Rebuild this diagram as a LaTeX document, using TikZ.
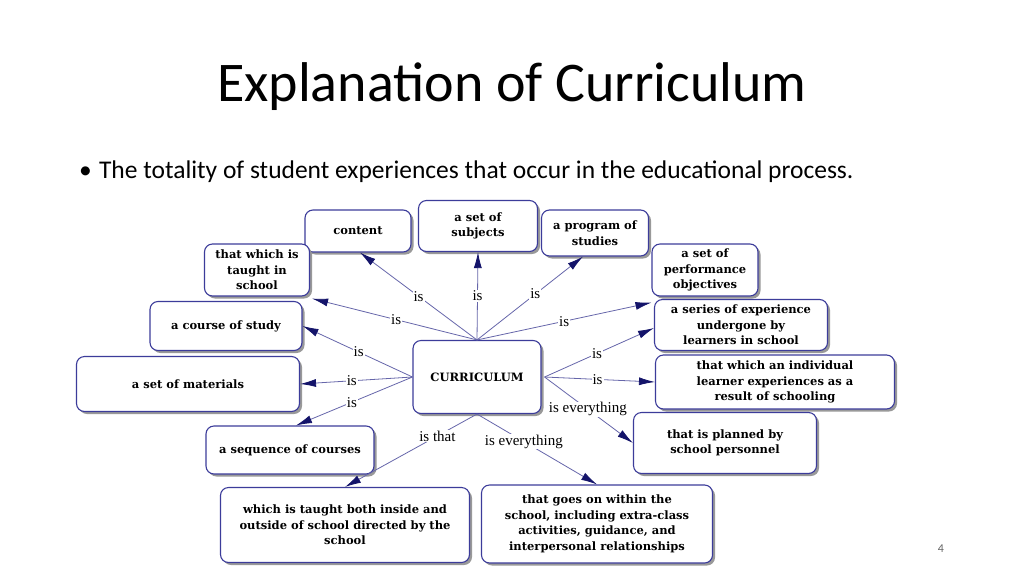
\documentclass[tikz,border=0pt]{standalone}
\usepackage{fontspec}
\setmainfont{Carlito}
\newfontfamily\nodefont{DejaVu Serif}
\newfontfamily\labfont{Liberation Serif}
\usetikzlibrary{arrows.meta,shadows,calc}
\definecolor{boxblue}{HTML}{3C3C9A}
\definecolor{lineblue}{HTML}{6666AA}
\definecolor{tipblue}{HTML}{14146A}
\tikzset{
  cbox/.style={draw=boxblue, line width=1.1pt, rounded corners=8pt, fill=white, align=center,
    font=\nodefont\bfseries\fontsize{11.5}{15.5}\selectfont, inner sep=2pt,
    drop shadow={shadow xshift=2.5pt, shadow yshift=-2.5pt, fill=black!40, opacity=1}},
  conn/.style={draw=lineblue, line width=0.8pt, -{Latex[length=16pt,width=8pt,color=tipblue]}},
  lab/.style={fill=white, inner sep=1pt, font=\labfont\fontsize{15}{17}\selectfont, text=black},
}
\begin{document}
\begin{tikzpicture}[x=1pt,y=-1pt]
\useasboundingbox[fill=white] (0,0) rectangle (1024,576);
\node (title) at (512,87) {\fontsize{56}{60}\selectfont Explanation of Curriculum};
\node[anchor=west, inner sep=0pt] (bul) at (79,172) {\fontsize{25.5}{28}\selectfont \textbullet\hspace{0.28em}The totality of student experiences that occur in the educational process.};
\node (pg) at (941,549) {\color{black!60}\fontsize{12}{14}\selectfont 4};

\node[cbox, minimum width=106pt, minimum height=42pt] (content) at (358,231) {content};
\node[cbox, minimum width=119pt, minimum height=51pt] (subjects) at (478,226) {a set of\\subjects};
\node[cbox, minimum width=107pt, minimum height=46pt] (program) at (595,233) {a program of\\studies};
\node[cbox, minimum width=105pt, minimum height=52pt] (taught) at (257,270) {that which is\\taught in\\school};
\node[cbox, minimum width=106pt, minimum height=52pt] (perf) at (705,270) {a set of\\performance\\objectives};
\node[cbox, minimum width=152pt, minimum height=49pt] (course) at (226,326) {a course of study};
\node[cbox, minimum width=173pt, minimum height=51pt] (series) at (741,325) {a series of experience\\undergone by\\learners in school};
\node[cbox, minimum width=223pt, minimum height=55pt] (materials) at (188,384) {a set of materials};
\node[cbox, minimum width=128pt, minimum height=73pt] (cur) at (477,377) {CURRICULUM};
\node[cbox, minimum width=239pt, minimum height=54pt] (indiv) at (775,382) {that which an individual\\learner experiences as a\\result of schooling};
\node[cbox, minimum width=168pt, minimum height=48pt] (sequence) at (290,450) {a sequence of courses};
\node[cbox, minimum width=183pt, minimum height=61pt] (planned) at (725,443) {that is planned by\\school personnel};
\node[cbox, minimum width=249pt, minimum height=75pt] (which) at (345,525) {which is taught both inside and\\outside of school directed by the\\school};
\node[cbox, minimum width=231pt, minimum height=78pt] (goes) at (597,524) {that goes on within the\\school, including extra-class\\activities, guidance, and\\interpersonal relationships};

\draw[conn] (cur.north) -- node[lab, pos=0.5]{is} ([xshift=2pt]content.south);
\draw[conn] (cur.north) -- node[lab, pos=0.5]{is} (subjects.south);
\draw[conn] (cur.north) -- node[lab, pos=0.55]{is} ([xshift=-12pt]program.south);
\draw[conn] (cur.north) -- node[lab, pos=0.49]{is} ([xshift=2pt,yshift=-2pt]taught.south east);
\draw[conn] (cur.north) -- node[lab, pos=0.5]{is} ([yshift=-6pt]perf.south west);
\draw[conn] (cur.west) -- node[lab, pos=0.49]{is} (course.east);
\draw[conn] (cur.west) -- node[lab, pos=0.54]{is} (materials.east);
\draw[conn] (cur.west) -- node[lab, pos=0.52]{is} ([xshift=6pt]sequence.north);
\draw[conn] ([xshift=3pt]cur.east) -- node[lab, pos=0.48]{is} ([yshift=-3pt]series.west);
\draw[conn] ([xshift=3pt]cur.east) -- node[lab, pos=0.48]{is} (indiv.west);
\draw[conn] ([xshift=3pt]cur.east) -- node[lab, pos=0.49]{is everything} (planned.west);
\draw[conn] (cur.south) -- node[lab, pos=0.3]{is that} (which.north);
\draw[conn] (cur.south) -- node[lab, pos=0.39]{is everything} (goes.north);
\end{tikzpicture}
\end{document}
